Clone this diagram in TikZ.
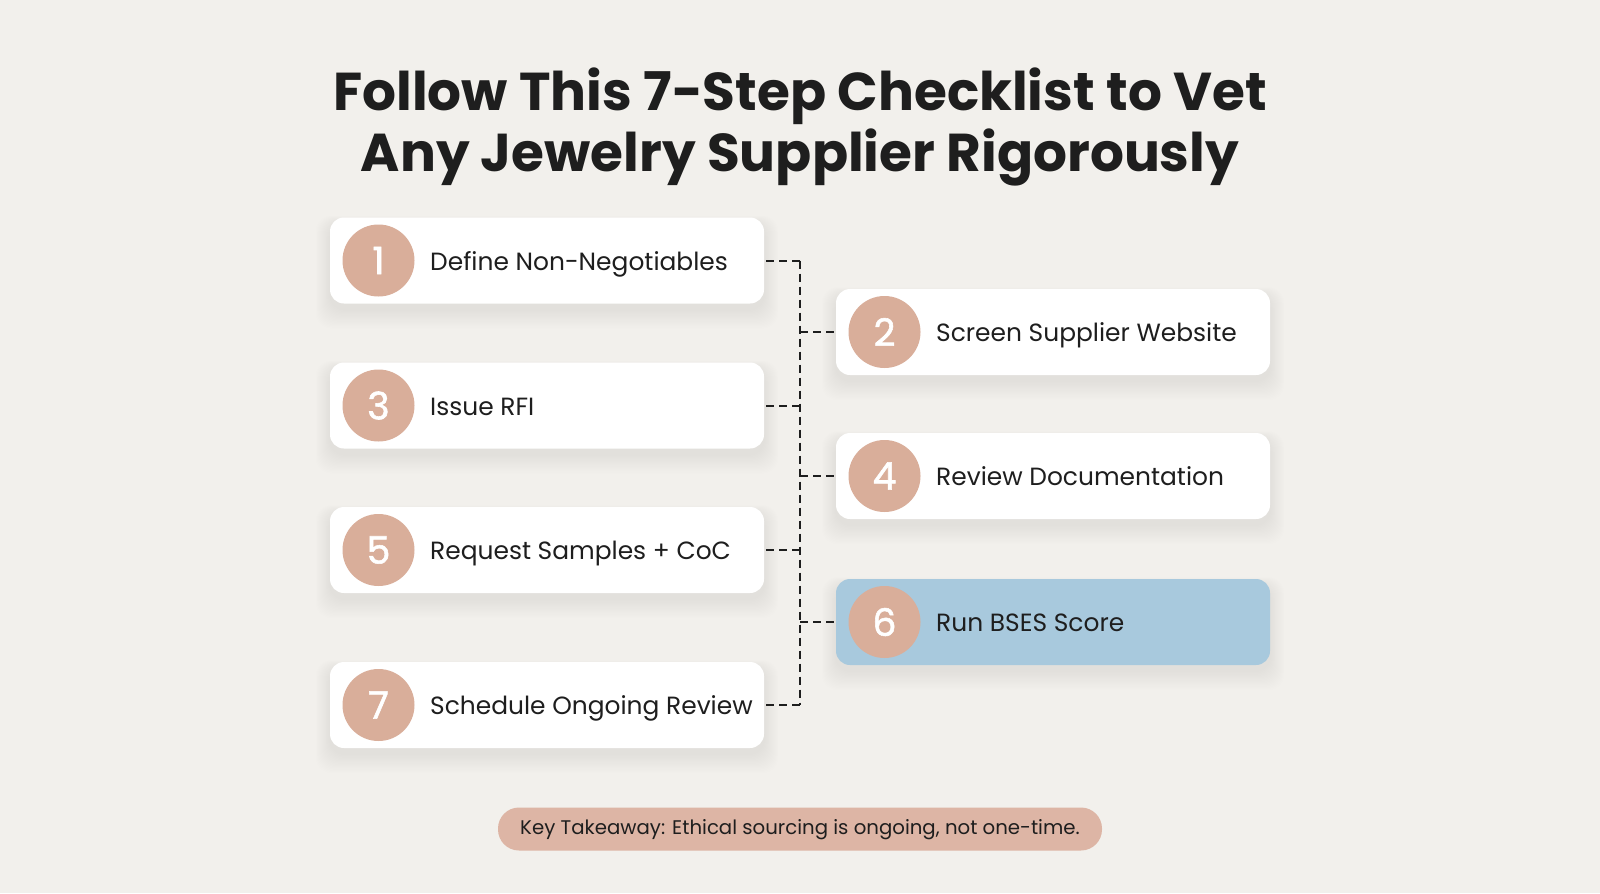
\documentclass[tikz,border=0pt]{standalone}
\usepackage{fontspec}
\setmainfont{Poppins}
\newfontfamily\numfont[FakeBold=1.5]{Poppins}
\usetikzlibrary{calc}
\definecolor{bgc}{HTML}{F2F0EC}
\definecolor{circc}{HTML}{D9AE9A}
\definecolor{bluec}{HTML}{A8C9DD}
\definecolor{pillc}{HTML}{DDB5A5}
\definecolor{txtc}{HTML}{1E1E1E}
\tikzset{
  card/.style={draw=none, fill=white, rounded corners=14bp, minimum width=434bp, minimum height=86bp, inner sep=0pt},
  bluecard/.style={card, fill=bluec},
  numcirc/.style={circle, fill=circc, minimum size=72bp, inner sep=0pt, text=white, font=\numfont\fontsize{38}{40}\selectfont},
  label/.style={anchor=base west, text=txtc, inner sep=0pt, font=\fontsize{25}{30}\selectfont},
  conn/.style={draw=txtc, line width=2bp, dash pattern=on 8bp off 5bp},
}
\begin{document}
\begin{tikzpicture}[x=1bp,y=-1bp]
\useasboundingbox (0,0) rectangle (1600,893);
\fill[bgc] (0,0) rectangle (1600,893);

% title
\node[text=txtc, align=center, font=\fontsize{53.5}{62}\selectfont\bfseries] (title) at (800,127) {Follow This 7-Step Checklist to Vet\\Any Jewelry Supplier Rigorously};

% shadows
\foreach \p in {{547,260.5},{1053,332},{547,405.5},{1053,476},{547,550},{1053,622},{547,705}}{
  \foreach \i in {1,...,16}{
    \fill[black, opacity=0.0045, rounded corners=16bp] ($(\p)+(-217-\i*0.9,-43+6-\i*0.5)$) rectangle ($(\p)+(217+\i*0.9,43+6+\i*1.2)$);
  }
}

% cards
\node[card] (b1) at (547,260.5) {};
\node[card] (b2) at (1053,332) {};
\node[card] (b3) at (547,405.5) {};
\node[card] (b4) at (1053,476) {};
\node[card] (b5) at (547,550) {};
\node[bluecard] (b6) at (1053,622) {};
\node[card] (b7) at (547,705) {};

% numbers
\node[numcirc] (c1) at (378.5,260.5) {1};
\node[numcirc] (c2) at (884.5,332) {2};
\node[numcirc] (c3) at (378.5,405.5) {3};
\node[numcirc] (c4) at (884.5,476) {4};
\node[numcirc] (c5) at (378.5,550) {5};
\node[numcirc] (c6) at (884.5,622) {6};
\node[numcirc] (c7) at (378.5,705) {7};

% labels
\node[label] (t1) at (430,270) {Define Non-Negotiables};
\node[label] (t2) at (936,341.5) {Screen Supplier Website};
\node[label] (t3) at (430,415) {Issue RFI};
\node[label] (t4) at (936,485.5) {Review Documentation};
\node[label] (t5) at (430,559.5) {Request Samples + CoC};
\node[label] (t6) at (936,631.5) {Run BSES Score};
\node[label] (t7) at (430,714.5) {Schedule Ongoing Review};

% connectors
\coordinate (stop) at (800,260.5);
\coordinate (sbot) at (800,705);
\draw[conn] (stop) -- (sbot);
\draw[conn] ([xshift=2bp]b1.east) -- (b1.east -| stop);
\draw[conn] ([xshift=2bp]b3.east) -- (b3.east -| stop);
\draw[conn] ([xshift=2bp]b5.east) -- (b5.east -| stop);
\draw[conn] ([xshift=2bp]b7.east) -- (b7.east -| stop);
\draw[conn] (b2.west -| stop) -- (b2.west);
\draw[conn] (b4.west -| stop) -- (b4.west);
\draw[conn] (b6.west -| stop) -- (b6.west);

% takeaway
\node[fill=pillc, rounded corners=21bp, minimum width=604bp, minimum height=43bp, inner sep=0pt, text=txtc, text height=14bp, text depth=4bp, font=\fontsize{19.8}{24}\selectfont] (take) at (800,829) {Key Takeaway: Ethical sourcing is ongoing, not one-time.};
\end{tikzpicture}
\end{document}
